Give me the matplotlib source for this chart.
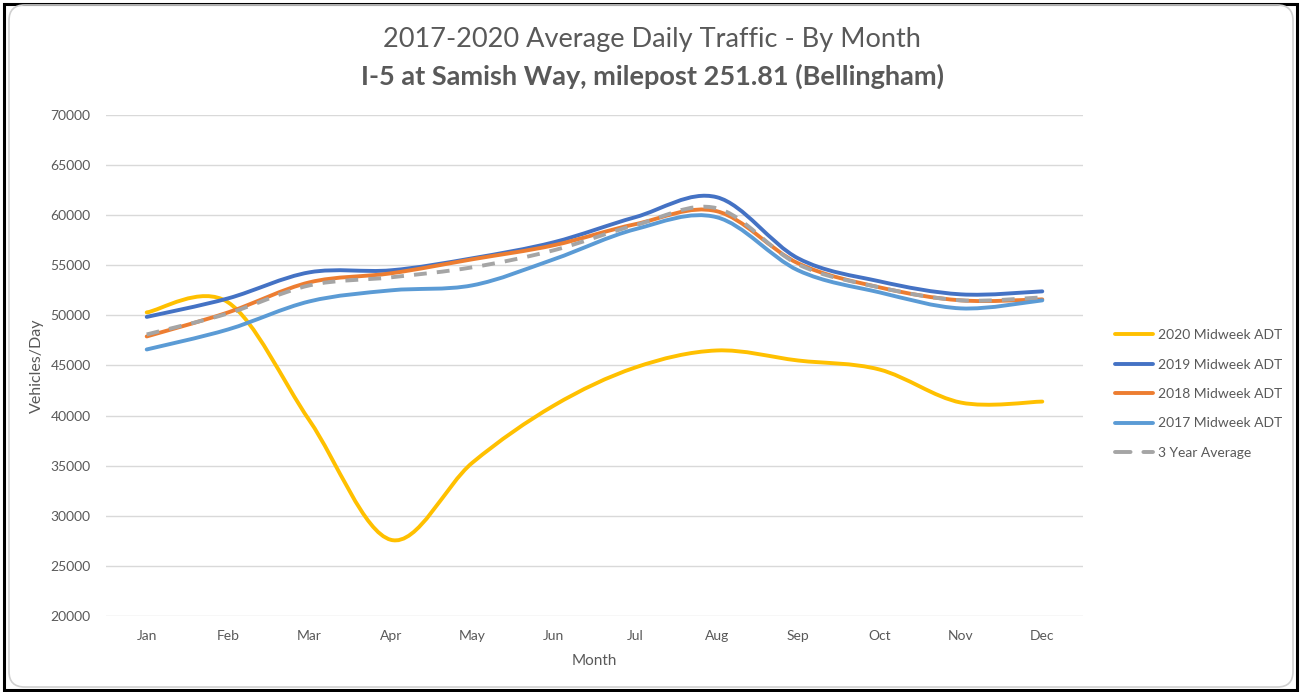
# plot.py
# 2017-2020 average daily traffic by month, I-5 at Samish Way

import matplotlib.pyplot as plt
from matplotlib.lines import Line2D
from matplotlib.patches import FancyBboxPatch, PathPatch, Rectangle
from matplotlib.path import Path

months = ["Jan", "Feb", "Mar", "Apr", "May", "Jun",
          "Jul", "Aug", "Sep", "Oct", "Nov", "Dec"]

adt_2020 = [50300, 51300, 39500, 27600, 35300, 41000,
            44800, 46500, 45500, 44600, 41300, 41400]
adt_2019 = [49850, 51700, 54300, 54500, 55700, 57300,
            59800, 61800, 55700, 53400, 52100, 52400]
adt_2018 = [47900, 50300, 53300, 54200, 55600, 57000,
            59100, 60400, 55200, 52800, 51500, 51600]
adt_2017 = [46600, 48600, 51400, 52500, 53000, 55600,
            58600, 59800, 54500, 52300, 50700, 51500]
avg_3yr = [48100, 50200, 53000, 53800, 54800, 56500,
           59000, 60700, 55100, 52800, 51500, 51800]

series = [
    ("2020 Midweek ADT", adt_2020, "#FFC000", "-"),
    ("2019 Midweek ADT", adt_2019, "#4472C4", "-"),
    ("2018 Midweek ADT", adt_2018, "#ED7D31", "-"),
    ("2017 Midweek ADT", adt_2017, "#5B9BD5", "-"),
    ("3 Year Average", avg_3yr, "#A5A5A5", "--"),
]

yticks = list(range(20000, 70001, 5000))
text_color = "#595959"


def smooth_path(xs, ys):
    """Excel-like smoothed line: cubic Bezier segments through every point"""
    pts = list(zip(xs, ys))
    verts = [pts[0]]
    codes = [Path.MOVETO]
    n = len(pts)
    for i in range(n - 1):
        p0 = pts[max(i - 1, 0)]
        p1 = pts[i]
        p2 = pts[i + 1]
        p3 = pts[min(i + 2, n - 1)]
        c1 = (p1[0] + (p2[0] - p0[0]) / 6, p1[1] + (p2[1] - p0[1]) / 6)
        c2 = (p2[0] - (p3[0] - p1[0]) / 6, p2[1] - (p3[1] - p1[1]) / 6)
        verts += [c1, c2, p2]
        codes += [Path.CURVE4] * 3
    return Path(verts, codes)


plt.rcParams["font.family"] = ["Lato", "DejaVu Sans"]

W, H = 1301, 692
fig = plt.figure(figsize=(W / 100, H / 100), dpi=100)

# outer black frame and inner rounded chart border
fig.patches.append(Rectangle((4 / W, 2 / H), 1293 / W, 686 / H, transform=fig.transFigure,
                             fill=False, ec="black", lw=2.2))
fig.patches.append(FancyBboxPatch((22 / W, 18 / H), 1258 / W, 656 / H,
                                  boxstyle="round,pad=0.01,rounding_size=0.012",
                                  transform=fig.transFigure, fill=False,
                                  ec="#D0D0D0", lw=1.2, mutation_aspect=W / H))

ax = fig.add_axes([106 / W, (H - 616) / H, 977 / W, 501 / H])
x = list(range(len(months)))

for label, vals, color, ls in series:
    patch = PathPatch(smooth_path(x, vals), fill=False, ec=color, lw=2.8,
                      ls=ls, capstyle="round", joinstyle="round")
    if ls == "--":
        patch.set_linestyle((0, (3.3, 2.6)))
        patch.set_capstyle("butt")
    ax.add_patch(patch)

ax.set_xlim(-0.5, len(months) - 0.5)
ax.set_ylim(20000, 70000)
ax.set_yticks(yticks)
ax.set_yticklabels([str(v) for v in yticks])
ax.set_xticks(x)
ax.set_xticklabels(months)
ax.tick_params(length=0, colors=text_color, labelsize=10)
ax.tick_params(axis="y", pad=11)
ax.tick_params(axis="x", pad=10)
for s in ax.spines.values():
    s.set_visible(False)
ax.grid(axis="y", color="#D9D9D9", lw=1)
ax.set_axisbelow(True)

ax.set_xlabel("Month", fontsize=11, color=text_color, labelpad=9)
ax.set_ylabel("Vehicles/Day", fontsize=11.5, color=text_color, labelpad=5)

fig.text(652 / W, 1 - 40 / H, "2017-2020 Average Daily Traffic - By Month",
         ha="center", va="center", fontsize=19.5, color=text_color)
fig.text(652 / W, 1 - 76 / H, "I-5 at Samish Way, milepost 251.81 (Bellingham)",
         ha="center", va="center", fontsize=19.5, color=text_color, weight="bold")

handles = []
for label, vals, color, ls in series:
    h = Line2D([], [], color=color, lw=2.8, solid_capstyle="round")
    if ls == "--":
        h.set_linestyle((0, (4.0, 3.3)))
        h.set_dash_capstyle("round")
    handles.append(h)
fig.legend(handles, [s[0] for s in series], loc="center left",
           bbox_to_anchor=(1102 / W, 1 - 394 / H), frameon=False, fontsize=10,
           labelcolor=text_color, handlelength=2.8, handletextpad=0.3,
           labelspacing=1.25)

fig.savefig("out.png", dpi=100, facecolor="white")
